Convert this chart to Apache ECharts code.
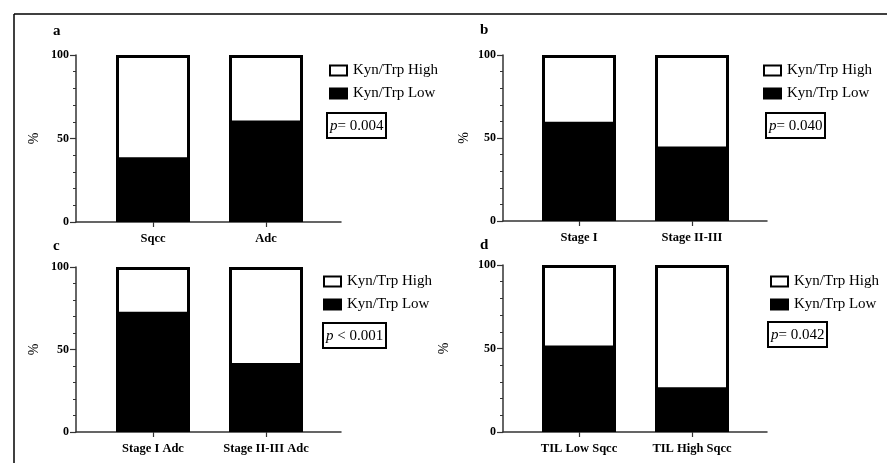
<!DOCTYPE html>
<html>
<head>
<meta charset="utf-8">
<script src="https://cdn.jsdelivr.net/npm/echarts@6/dist/echarts.min.js"></script>
<style>
  html, body { margin: 0; padding: 0; background: #fff; }
  #chart { width: 887px; height: 463px; }
</style>
</head>
<body>
<div id="chart"></div>
<script>
// data (percent of patients)
const panelLetters = ['a', 'b', 'c', 'd']
const categories = [
  ['Sqcc', 'Adc'],
  ['Stage I', 'Stage II-III'],
  ['Stage I Adc', 'Stage II-III Adc'],
  ['TIL Low Sqcc', 'TIL High Sqcc']
]
const lowValues = [[37, 59], [58, 43], [71, 40], [50, 25]]
const highValues = [[63, 41], [42, 57], [29, 60], [50, 75]]
const pTexts = ['= 0.004', '= 0.040', ' < 0.001', '= 0.042']
const seriesNames = ['Kyn/Trp High', 'Kyn/Trp Low']
const yTicks = [0, 50, 100]

// panel placement in px
const layout = [
  { axisX: 76, gridLeft: 96.5, axisEnd: 341, top: 55, height: 167, legend: [329, 63], pBox: [327, 113], letter: [53, 24], nameGap: 35 },
  { axisX: 503, gridLeft: 522.5, axisEnd: 767, top: 55, height: 166, legend: [763, 63], pBox: [766, 113], letter: [480, 23], nameGap: 32 },
  { axisX: 76, gridLeft: 96.5, axisEnd: 341, top: 267, height: 165, legend: [323, 274], pBox: [323, 323], letter: [53, 239], nameGap: 35 },
  { axisX: 503, gridLeft: 522.5, axisEnd: 767, top: 265, height: 167, legend: [770, 274], pBox: [768, 322], letter: [480, 238], nameGap: 52 }
]

const serif = 'Liberation Serif'
const axisColor = '#333'

const grid = []
const xAxis = []
const yAxis = []
const series = []
const legend = []
const title = []

layout.forEach((p, i) => {
  // grid for the bars, plus one that only carries the longer x axis line
  grid.push({ left: p.gridLeft, top: p.top, width: 226, height: p.height })
  grid.push({ left: p.axisX, top: p.top, width: p.axisEnd - p.axisX, height: p.height })

  xAxis.push({
    type: 'category',
    gridIndex: i * 2,
    data: categories[i],
    axisLine: { show: false },
    axisTick: { show: true, alignWithLabel: true, length: 5, lineStyle: { color: axisColor, width: 1.2 } },
    axisLabel: { color: '#000', fontFamily: serif, fontWeight: 'bold', fontSize: 12.5, margin: 10 }
  })
  xAxis.push({
    type: 'value',
    gridIndex: i * 2 + 1,
    min: 0, max: 1,
    axisLine: { show: true, lineStyle: { color: axisColor, width: 1.5 } },
    axisTick: { show: false },
    axisLabel: { show: false },
    splitLine: { show: false }
  })

  yAxis.push({
    type: 'value',
    gridIndex: i * 2,
    min: 0, max: 100, interval: 50,
    offset: p.gridLeft - p.axisX,
    name: '%',
    nameLocation: 'middle',
    nameGap: p.nameGap,
    nameRotate: 90,
    nameTextStyle: { color: '#000', fontFamily: serif, fontSize: 14 },
    axisLine: { show: true, lineStyle: { color: axisColor, width: 1.5 } },
    axisTick: { show: true, length: 6, lineStyle: { color: axisColor, width: 1.2 } },
    minorTick: { show: true, splitNumber: 5, length: 3, lineStyle: { color: axisColor, width: 1 } },
    axisLabel: { color: '#000', fontFamily: serif, fontWeight: 'bold', fontSize: 12, margin: 7,
      customValues: yTicks },
    splitLine: { show: false }
  })
  yAxis.push({ type: 'value', gridIndex: i * 2 + 1, show: false, min: 0, max: 100 })

  // black part drawn above the white part; the small upward shadow hides the seam between them
  series.push({
    name: seriesNames[1],
    type: 'bar',
    stack: 'p' + i,
    xAxisIndex: i * 2,
    yAxisIndex: i * 2,
    barWidth: 74,
    z: 3,
    data: lowValues[i],
    itemStyle: { color: '#000', borderColor: '#000', borderWidth: 3,
      shadowColor: '#000', shadowBlur: 0, shadowOffsetY: -1 }
  })
  series.push({
    name: seriesNames[0],
    type: 'bar',
    stack: 'p' + i,
    xAxisIndex: i * 2,
    yAxisIndex: i * 2,
    barWidth: 74,
    data: highValues[i],
    itemStyle: { color: '#fff', borderColor: '#000', borderWidth: 3 }
  })

  legend.push({
    data: seriesNames,
    orient: 'vertical',
    left: p.legend[0],
    top: p.legend[1],
    padding: 0,
    icon: 'rect',
    itemWidth: 17,
    itemHeight: 10,
    itemGap: 8,
    selectedMode: false,
    itemStyle: { shadowOffsetY: 0 },
    textStyle: { color: '#000', fontFamily: serif, fontSize: 15, padding: [0, 0, 0, 1] }
  })

  title.push({
    text: panelLetters[i],
    left: p.letter[0],
    top: p.letter[1],
    padding: 0,
    textStyle: { color: '#000', fontFamily: serif, fontWeight: 'bold', fontSize: 15 }
  })
  title.push({
    text: '{i|p}' + pTexts[i],
    left: p.pBox[0],
    top: p.pBox[1],
    borderColor: '#000',
    borderWidth: 2,
    padding: [6, 3, 4, 3],
    textStyle: {
      color: '#000', fontFamily: serif, fontWeight: 'normal', fontSize: 15,
      rich: { i: { fontStyle: 'italic', fontFamily: serif, fontSize: 15, color: '#000' } }
    }
  })
})

const chart = echarts.init(document.getElementById('chart'))
chart.setOption({
  animation: false,
  backgroundColor: '#fff',
  title,
  legend,
  grid,
  xAxis,
  yAxis,
  series,
  graphic: [
    // frame lines of the cropped figure
    { type: 'line', shape: { x1: 14, y1: 14, x2: 887, y2: 14 }, style: { stroke: '#000', lineWidth: 1.5 } },
    { type: 'line', shape: { x1: 14, y1: 14, x2: 14, y2: 463 }, style: { stroke: '#000', lineWidth: 1.5 } }
  ]
})

window.addEventListener('resize', () => chart.resize())
</script>
</body>
</html>
